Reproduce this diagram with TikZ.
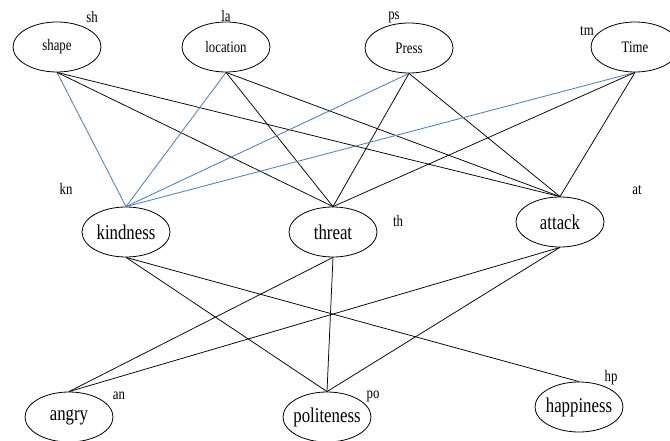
\documentclass[tikz,border=0pt]{standalone}
\usepackage{fontspec}
\setmainfont{Liberation Serif}[FakeStretch=0.8]
\usetikzlibrary{shapes.geometric}
\definecolor{eblue}{RGB}{79,129,189}
\begin{document}
\begin{tikzpicture}[x=1pt,y=-1pt,
 ell/.style={draw, ellipse, minimum width=88pt, minimum height=50pt, inner sep=0pt, line width=0.8pt},
 topt/.style={font=\fontsize{16}{16}\selectfont, inner sep=0pt},
 bigt/.style={font=\fontsize{21}{21}\selectfont, inner sep=0pt},
 tag/.style={font=\fontsize{16}{16}\selectfont, inner sep=0pt},
 edge/.style={draw=black, line width=0.75pt},
 bedge/.style={draw=eblue, line width=0.85pt}]
\useasboundingbox (0,0) rectangle (670,441);
\clip (0,0) rectangle (670,441);
% top row
\node[ell] (sh) at (57,47) {};
\node[topt] (sht) at (sh) {shape};
\node[ell] (la) at (226,47) {};
\node[topt] (lat) at (la) {location};
\node[ell] (ps) at (409,48) {};
\node[topt] (pst) at (ps) {Press};
\node[ell] (tm) at (635,47) {};
\node[topt] (tmt) at (tm) {Time};
% middle row
\node[ell] (kn) at (126,232) {};
\node[bigt] (knt) at (kn) {kindness};
\node[ell] (th) at (333,232) {};
\node[bigt] (tht) at (th) {threat};
\node[ell] (at) at (560,222) {};
\node[bigt] (att) at (at) {attack};
% bottom row
\node[ell] (an) at (69,417) {};
\node[bigt] (ant) at (an) {angry};
\node[ell] (po) at (327,417) {};
\node[bigt] (pot) at (po) {politeness};
\node[ell] (hp) at (579,407) {};
\node[bigt] (hpt) at (hp) {happiness};
% tags
\node[tag] (shl) at (92,17) {sh};
\node[tag] (lal) at (226,16) {la};
\node[tag] (psl) at (394,17) {ps};
\node[tag] (tml) at (587,31) {tm};
\node[tag] (knl) at (66,189) {kn};
\node[tag] (thl) at (398,221) {th};
\node[tag] (atl) at (637,190) {at};
\node[tag] (anl) at (119,396) {an};
\node[tag] (pol) at (373,396) {po};
\node[tag] (hpl) at (611,378) {hp};
% edges top -> middle
\draw[bedge] (sh.south) -- (kn.north);
\draw[edge] (sh.south) -- (th.north);
\draw[edge] (sh.south) -- (at.north);
\draw[bedge] (la.south) -- (kn.north);
\draw[edge] (la.south) -- (th.north);
\draw[edge] (la.south) -- (at.north);
\draw[bedge] (ps.south) -- (kn.north);
\draw[edge] (ps.south) -- (th.north);
\draw[edge] (ps.south) -- (at.north);
\draw[bedge] (tm.south) -- (kn.north);
\draw[edge] (tm.south) -- (th.north);
\draw[edge] (tm.south) -- (at.north);
% edges middle -> bottom
\draw[edge] (kn.south) -- (po.north);
\draw[edge] (kn.south) -- (hp.north);
\draw[edge] (th.south) -- (an.north);
\draw[edge] (th.south) -- (po.north);
\draw[edge] (at.south) -- (an.north);
\draw[edge] (at.south) -- (po.north);
\end{tikzpicture}
\end{document}
